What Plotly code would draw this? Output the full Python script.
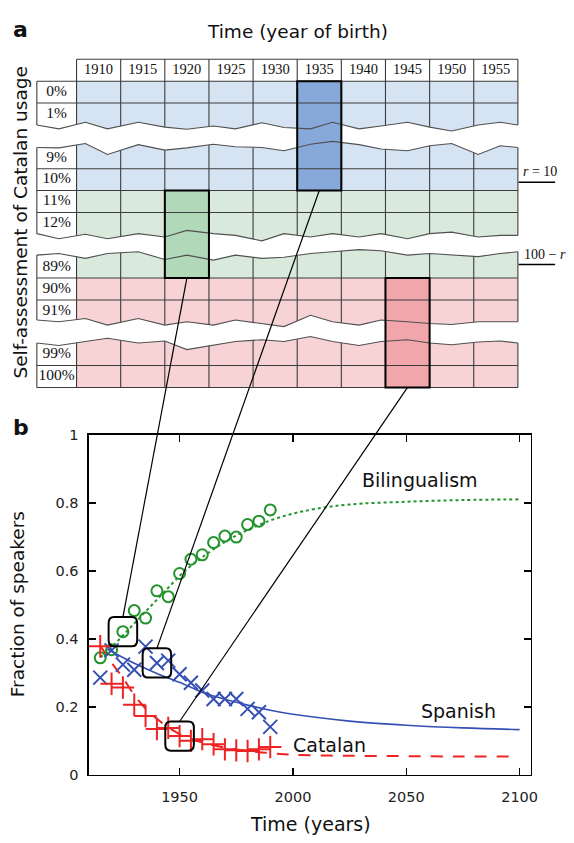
import numpy as np
import plotly.graph_objects as go

W, H = 574, 843

# ---------------- panel b data ----------------
years = [1915, 1920, 1925, 1930, 1935, 1940, 1945, 1950, 1955, 1960, 1965, 1970, 1975, 1980, 1985, 1990]
bilingual = [0.344, 0.368, 0.421, 0.483, 0.461, 0.541, 0.524, 0.592, 0.634, 0.647, 0.683, 0.702, 0.699, 0.736, 0.746, 0.779]
spanish = [0.286, 0.366, 0.324, 0.309, 0.377, 0.329, 0.336, 0.296, 0.271, 0.248, 0.223, 0.223, 0.223, 0.194, 0.184, 0.141]
catalan = [0.378, 0.268, 0.257, 0.206, 0.173, 0.135, 0.138, 0.114, 0.100, 0.105, 0.090, 0.075, 0.072, 0.070, 0.075, 0.082]

bil_fit_years = [1915, 1920, 1925, 1930, 1935, 1940, 1945, 1950, 1955, 1960, 1970, 1980, 1990, 2000, 2010, 2025, 2050, 2075, 2100]
bil_fit = [0.345, 0.375, 0.41, 0.445, 0.48, 0.515, 0.55, 0.585, 0.615, 0.64, 0.685, 0.72, 0.748, 0.768, 0.782, 0.795, 0.803, 0.808, 0.81]
spa_fit_years = [1918, 1925, 1930, 1940, 1950, 1960, 1970, 1980, 1990, 2000, 2025, 2050, 2075, 2100]
spa_fit = [0.37, 0.345, 0.328, 0.298, 0.272, 0.243, 0.222, 0.205, 0.19, 0.178, 0.158, 0.146, 0.138, 0.133]
cat_fit_years = [1915, 1920, 1925, 1930, 1935, 1940, 1945, 1950, 1955, 1960, 1970, 1980, 1990, 2000, 2025, 2050, 2075, 2096]
cat_fit = [0.38, 0.33, 0.285, 0.235, 0.195, 0.165, 0.14, 0.12, 0.105, 0.095, 0.08, 0.07, 0.064, 0.059, 0.056, 0.055, 0.054, 0.054]

x_ticks_b = [1950, 2000, 2050, 2100]
y_ticks_b = [0, 0.2, 0.4, 0.6, 0.8, 1]

# ---------------- panel a data ----------------
birth_years = ["1910", "1915", "1920", "1925", "1930", "1935", "1940", "1945", "1950", "1955"]
usage_labels = ["0%", "1%", "", "9%", "10%", "11%", "12%", "", "89%", "90%", "91%", "", "99%", "100%"]
row_band = ["S", "S", "S", "S", "S", "B", "B", "B", "B", "C", "C", "C", "C", "C"]
gap_rows = [3, 8, 12]
band_names = ["S", "B", "C"]
band_rows = {"S": (1, 6), "B": (6, 10), "C": (10, 15)}
highlight_year = {"S": "1935", "B": "1920", "C": "1945"}
light_colors = {"S": "#d6e3f3", "B": "#d9eadc", "C": "#f8d3d5"}
dark_colors = {"S": "#87a9d9", "B": "#b1d8b8", "C": "#f1a6ab"}

# zigzag break edges (column units, row offsets)
ZZ_X = [-0.9, -0.4, 0.2, 0.7, 1.4, 2.0, 2.5, 3.1, 3.6, 4.2, 4.7, 5.3, 5.8, 6.4, 6.9, 7.5, 8.0, 8.5, 9.1, 9.6, 10.0]
ZZ_UP = [
    [0.0, 0.18, -0.12, 0.18, -0.12, 0.1, 0.2, 0.05, 0.18, -0.1, 0.12, 0.18, -0.12, 0.18, 0.05, -0.12, 0.1, 0.28, 0.0, -0.12, 0.0],
    [-0.03, 0.2, 0.0, 0.2, -0.03, 0.12, -0.18, -0.03, 0.05, 0.3, -0.03, 0.12, -0.03, 0.12, -0.03, 0.2, -0.03, -0.1, 0.12, 0.05, 0.05],
    [-0.08, 0.0, -0.15, 0.15, -0.15, 0.15, 0.0, 0.15, -0.08, 0.08, 0.22, -0.3, 0.0, 0.15, -0.08, 0.0, 0.08, 0.12, 0.0, 0.0, 0.0],
]
ZZ_LO = [
    [0.03, 0.05, -0.15, 0.35, -0.1, 0.15, 0.05, -0.12, 0.0, 0.03, 0.18, -0.12, -0.25, -0.1, 0.1, 0.18, -0.05, -0.15, 0.35, -0.05, 0.03],
    [-0.05, -0.12, 0.1, -0.12, -0.2, 0.15, -0.05, 0.18, -0.05, 0.1, 0.05, -0.12, -0.2, -0.3, -0.25, -0.05, -0.12, -0.05, 0.02, -0.12, -0.2],
    [-0.03, 0.08, -0.1, -0.25, -0.03, -0.12, 0.27, 0.05, -0.1, -0.18, -0.1, -0.33, -0.1, 0.08, -0.1, -0.18, -0.03, 0.05, -0.08, -0.12, -0.03],
]

# ---------------- geometry (pixels -> paper) ----------------
def px(x):
    return x / W

def py(y):
    return 1 - y / H

A_XR = [-0.95, 10.05]
A_YR = [15.1, -0.1]
A_DX = [px(35.05), px(526.5)]
A_DY = [py(389.0), py(50.07)]
B_XR = [1910, 2105]
B_YR = [0, 1]
B_DX = [px(90), px(537.5)]
B_DY = [py(781.7), py(435)]

def a_paper(u, r):
    xp = A_DX[0] + (u - A_XR[0]) / (A_XR[1] - A_XR[0]) * (A_DX[1] - A_DX[0])
    yp = A_DY[0] + (A_YR[0] - r) / (A_YR[0] - A_YR[1]) * (A_DY[1] - A_DY[0])
    return xp, yp

def b_paper(t, v):
    xp = B_DX[0] + (t - B_XR[0]) / (B_XR[1] - B_XR[0]) * (B_DX[1] - B_DX[0])
    yp = B_DY[0] + (v - B_YR[0]) / (B_YR[1] - B_YR[0]) * (B_DY[1] - B_DY[0])
    return xp, yp

fig = go.Figure()

# ---------------- panel a: cells ----------------
ncol = len(birth_years)
colorlist = []
for b in band_names:
    colorlist += [light_colors[b], dark_colors[b]]
z = []
for ri, band in enumerate(row_band):
    row = []
    for ci, yr in enumerate(birth_years):
        k = band_names.index(band) * 2 + (1 if yr == highlight_year[band] else 0)
        row.append(k)
    z.append(row)
n = len(colorlist)
cs = []
for i, c in enumerate(colorlist):
    cs.append([i / n, c])
    cs.append([(i + 1) / n, c])
fig.add_trace(go.Heatmap(
    z=z, x=[c + 0.5 for c in range(ncol)], y=[r + 1.5 for r in range(len(row_band))],
    colorscale=cs, zmin=-0.5, zmax=n - 0.5, showscale=False, hoverinfo="skip",
    xaxis="x2", yaxis="y2"))

# grid lines
gx, gy = [], []
for b in [1, 2, 5, 6, 7, 10, 11, 14, 15]:
    gx += [-0.9, 10, None]; gy += [b, b, None]
gx += [0, 10, None]; gy += [0, 0, None]
gx += [-0.9, -0.9, None]; gy += [1, 15, None]
for c in range(ncol + 1):
    gx += [c, c, None]; gy += [0, 15, None]
fig.add_trace(go.Scatter(x=gx, y=gy, mode="lines", line=dict(color="#3c3c3c", width=1.1),
                         hoverinfo="skip", xaxis="x2", yaxis="y2", showlegend=False))

# white breaks
zzx = np.array(ZZ_X)
for gi, gr in enumerate(gap_rows):
    up = gr + np.array(ZZ_UP[gi])
    lo = gr + 1 + np.array(ZZ_LO[gi])
    band = row_band[gr - 1]
    hc = birth_years.index(highlight_year[band])
    segs = [(-0.97, hc), (hc + 1, 10.07)]
    for xa, xb in segs:
        xs = [xa] + [v for v in ZZ_X if xa < v < xb] + [xb]
        yu = list(np.interp(xs, zzx, up))
        yl = list(np.interp(xs, zzx, lo))
        fig.add_trace(go.Scatter(x=xs + xs[::-1] + [xs[0]], y=yu + yl[::-1] + [yu[0]], mode="lines",
                                 fill="toself", fillcolor="white", line=dict(width=0, color="white"),
                                 hoverinfo="skip", xaxis="x2", yaxis="y2", showlegend=False))
    for yy in (up, lo):
        fig.add_trace(go.Scatter(x=ZZ_X, y=list(yy), mode="lines", line=dict(color="#505050", width=1.1),
                                 hoverinfo="skip", xaxis="x2", yaxis="y2", showlegend=False))

# labels in table
fig.add_trace(go.Scatter(x=[c + 0.5 for c in range(ncol)], y=[0.5] * ncol, text=birth_years, mode="text",
                         textfont=dict(family="Liberation Serif", size=14.5, color="#111"),
                         hoverinfo="skip", xaxis="x2", yaxis="y2", showlegend=False))
lab_y = [r + 1.5 for r, t in enumerate(usage_labels) if t]
lab_t = [t for t in usage_labels if t]
fig.add_trace(go.Scatter(x=[-0.45] * len(lab_t), y=lab_y, text=lab_t, mode="text",
                         textfont=dict(family="Liberation Serif", size=15.5, color="#111"),
                         hoverinfo="skip", xaxis="x2", yaxis="y2", showlegend=False))

shapes = []
# highlight outlines
for b in band_names:
    hc = birth_years.index(highlight_year[b])
    r0, r1 = band_rows[b]
    shapes.append(dict(type="rect", xref="x2", yref="y2", x0=hc, x1=hc + 1, y0=r0, y1=r1,
                       line=dict(color="black", width=2), fillcolor="rgba(0,0,0,0)"))

# ---------------- panel b ----------------
green = "#23932d"
blue = "#3550b4"
red = "#ee2424"
fig.add_trace(go.Scatter(x=bil_fit_years, y=bil_fit, mode="lines", line=dict(color=green, width=2, dash="dot", shape="spline"),
                         hoverinfo="skip", showlegend=False))
fig.add_trace(go.Scatter(x=spa_fit_years, y=spa_fit, mode="lines", line=dict(color=blue, width=1.6, shape="spline"),
                         hoverinfo="skip", showlegend=False))
fig.add_trace(go.Scatter(x=cat_fit_years, y=cat_fit, mode="lines", line=dict(color=red, width=2, dash="12px,10px", shape="spline"),
                         hoverinfo="skip", showlegend=False))
fig.add_trace(go.Scatter(x=years, y=bilingual, mode="markers",
                         marker=dict(symbol="circle-open", size=11, color=green, line=dict(width=2, color=green)),
                         showlegend=False))
fig.add_trace(go.Scatter(x=years, y=spanish, mode="markers",
                         marker=dict(symbol="x-thin-open", size=14, color=blue, line=dict(width=2, color=blue)),
                         showlegend=False))
fig.add_trace(go.Scatter(x=years, y=catalan, mode="markers",
                         marker=dict(symbol="cross-thin-open", size=16, color=red, line=dict(width=2, color=red)),
                         showlegend=False))

# rounded boxes + connecting lines
hw, hh, rx, ry = 6.3, 0.043, 2.4, 0.018
box_centers = [(years[2], bilingual[2], "B"), (years[5], spanish[5], "S"), (years[7], catalan[7], "C")]
for cx, cy, b in box_centers:
    x0, x1, y0, y1 = cx - hw, cx + hw, cy - hh, cy + hh
    path = (f"M {x0+rx},{y0} L {x1-rx},{y0} Q {x1},{y0} {x1},{y0+ry} L {x1},{y1-ry} "
            f"Q {x1},{y1} {x1-rx},{y1} L {x0+rx},{y1} Q {x0},{y1} {x0},{y1-ry} L {x0},{y0+ry} "
            f"Q {x0},{y0} {x0+rx},{y0} Z")
    shapes.append(dict(type="path", xref="x", yref="y", path=path, line=dict(color="black", width=2)))
    hc = birth_years.index(highlight_year[b])
    ax, ay = a_paper(hc + 0.5, band_rows[b][1])
    bx, by = b_paper(cx, y1)
    shapes.append(dict(type="line", xref="paper", yref="paper", x0=ax, y0=ay, x1=bx, y1=by,
                       line=dict(color="black", width=1.2)))

# r labels underlines
shapes.append(dict(type="line", xref="paper", yref="paper", x0=px(525), x1=px(562), y0=py(177.5), y1=py(177.5),
                   line=dict(color="black", width=1.5)))
shapes.append(dict(type="line", xref="paper", yref="paper", x0=px(525), x1=px(562), y0=py(261.5), y1=py(261.5),
                   line=dict(color="black", width=1.5)))

sans = "DejaVu Sans"
ann = []

def pann(text, x, y, size, angle=0, family=sans, xanchor="center"):
    ann.append(dict(text=text, x=px(x), y=py(y), xref="paper", yref="paper", showarrow=False,
                    xanchor=xanchor, yanchor="middle", textangle=angle,
                    font=dict(family=family, size=size, color="#111")))

pann("<b>a</b>", 21, 22, 22)
pann("<b>b</b>", 21, 428, 22)
pann("Time (year of birth)", 301, 24, 18.5)
pann("Self-assessment of Catalan usage", 21, 219, 18.5, angle=-90)
pann("<i>r</i> = 10", 527, 167, 14, family="Liberation Serif", xanchor="left")
pann("100 − <i>r</i>", 528, 251, 14, family="Liberation Serif", xanchor="left")
pann("Fraction of speakers", 18, 608, 18.5, angle=-90)
pann("Time (years)", 314, 832, 19)

for text, xx, yy in [("Bilingualism", 2056, 0.868), ("Spanish", 2073, 0.187), ("Catalan", 2016, 0.089)]:
    ann.append(dict(text=text, x=xx, y=yy, xref="x", yref="y", showarrow=False,
                    xanchor="center", yanchor="middle", font=dict(family=sans, size=19, color="#111")))

fig.update_layout(
    width=W, height=H, autosize=False,
    margin=dict(l=0, r=0, t=0, b=0),
    paper_bgcolor="white", plot_bgcolor="rgba(0,0,0,0)",
    showlegend=False,
    shapes=shapes, annotations=ann,
    xaxis=dict(domain=B_DX, range=B_XR, tickvals=x_ticks_b, ticks="inside", ticklen=7, tickwidth=1.5,
               tickcolor="black", showline=True, linecolor="black", linewidth=1.5, mirror="ticks",
               showgrid=False, zeroline=False, tickfont=dict(family=sans, size=14.5, color="#222"),
               ticklabelstandoff=8),
    yaxis=dict(domain=B_DY, range=B_YR, tickvals=y_ticks_b, ticks="inside", ticklen=7, tickwidth=1.5,
               tickcolor="black", showline=True, linecolor="black", linewidth=1.5, mirror="ticks",
               showgrid=False, zeroline=False, tickfont=dict(family=sans, size=14.5, color="#222"),
               ticklabelstandoff=6),
    xaxis2=dict(domain=A_DX, range=A_XR, anchor="y2", visible=False, showgrid=False, zeroline=False),
    yaxis2=dict(domain=A_DY, range=A_YR, anchor="x2", visible=False, showgrid=False, zeroline=False),
)

fig.write_html(
    "out.html",
    config={"displayModeBar": False, "staticPlot": True},
    post_script="document.body.style.margin='0px';document.body.style.overflow='hidden';"
                "document.documentElement.style.overflow='hidden';",
)
